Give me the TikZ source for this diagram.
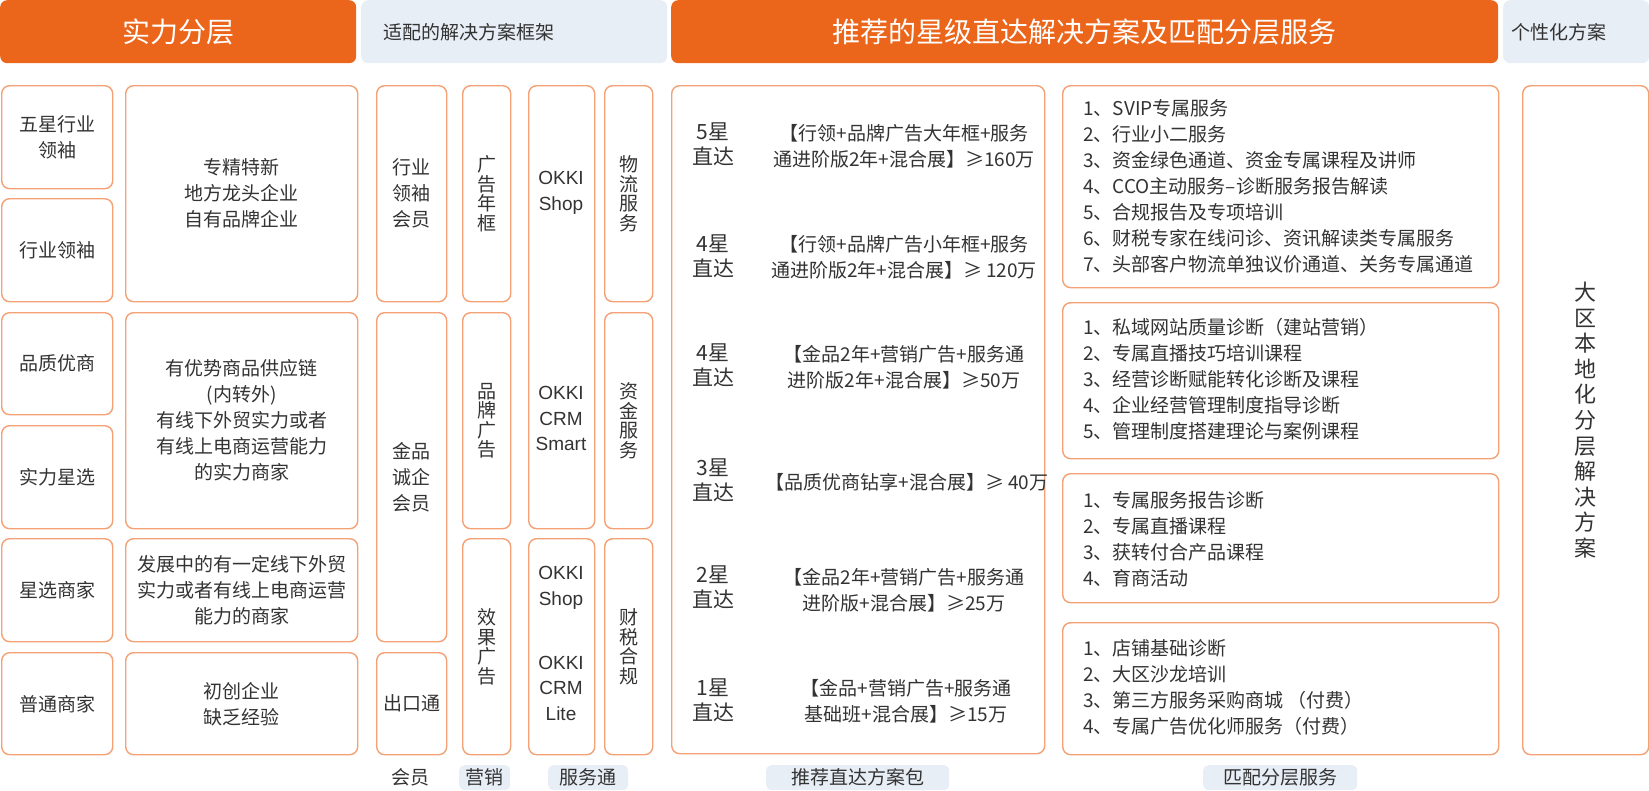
\documentclass[tikz,border=0pt]{standalone}
\usepackage{fontspec}
\setmainfont{Noto Sans CJK SC}
\newfontfamily\latfont{Liberation Sans}
\definecolor{org}{HTML}{EB651A}
\definecolor{bdr}{HTML}{F3A175}
\definecolor{lbg}{HTML}{E8EEF6}
\definecolor{txt}{HTML}{333333}
\tikzset{
 cell/.style={draw=bdr, line width=1.4pt, rounded corners=8pt, fill=white, align=center, text=txt, inner sep=0pt, font=\fontsize{19}{26}\selectfont},
 vcell/.style={cell, font=\fontsize{19}{19.5}\selectfont},
 hdr/.style={fill=org, rounded corners=7pt, inner sep=0pt, text=white, font=\fontsize{28}{34}\selectfont},
 lhdr/.style={fill=lbg, rounded corners=7pt, inner sep=0pt},
 htxt/.style={text=txt, inner sep=0pt, anchor=west, font=\fontsize{19}{26}\selectfont},
 okki/.style={text=txt, align=center, inner sep=0pt, font=\latfont\fontsize{19}{25.5}\selectfont},
 star/.style={text=txt, align=center, inner sep=0pt, font=\fontsize{21}{25}\selectfont},
 deal/.style={text=txt, align=center, inner sep=0pt, font=\fontsize{19}{26}\selectfont},
 svc/.style={text=txt, align=left, inner sep=0pt, anchor=west, font=\fontsize{19}{26}\selectfont},
 tag/.style={fill=lbg, rounded corners=5pt, inner sep=0pt, text=txt, font=\fontsize{19}{26}\selectfont},
 plain/.style={text=txt, inner sep=0pt, font=\fontsize{19}{26}\selectfont},
}
\newcommand\cellbox[7][cell]{\node[#1, minimum width=#5pt, minimum height=#6pt, anchor=north west] (#2) at (#3,#4) {#7};}
\begin{document}
\begin{tikzpicture}[x=1pt,y=-1pt]
\useasboundingbox (0,0) rectangle (1649,790);
% headers
\cellbox[hdr]{h1}{0}{0}{356}{63}{实力分层}
\cellbox[lhdr]{h2}{361}{0}{306}{63}{}
\node[htxt] (h2t) at (383,32) {适配的解决方案框架};
\cellbox[hdr]{h3}{671}{0}{827}{63}{推荐的星级直达解决方案及匹配分层服务}
\cellbox[lhdr]{h4}{1503}{0}{146}{63}{}
\node[htxt] (h4t) at (1511,32) {个性化方案};
% column 1
\cellbox{a1}{1}{85}{111}{103}{五星行业\\领袖}
\cellbox{a2}{1}{198}{111}{103}{行业领袖}
\cellbox{a3}{1}{312}{111}{102}{品质优商}
\cellbox{a4}{1}{425}{111}{103}{实力星选}
\cellbox{a5}{1}{538}{111}{103}{星选商家}
\cellbox{a6}{1}{652}{111}{102}{普通商家}
% column 2
\cellbox{b1}{125}{85}{232}{216}{专精特新\\地方龙头企业\\自有品牌企业}
\cellbox{b2}{125}{312}{232}{216}{有优势商品供应链\\(内转外)\\有线下外贸实力或者\\有线上电商运营能力\\的实力商家}
\cellbox{b3}{125}{538}{232}{103}{发展中的有一定线下外贸\\实力或者有线上电商运营\\能力的商家}
\cellbox{b4}{125}{652}{232}{102}{初创企业\\缺乏经验}
% column 3
\cellbox{c1}{376}{85}{70}{216}{行业\\领袖\\会员}
\cellbox{c2}{376}{312}{70}{329}{金品\\诚企\\会员}
\cellbox{c3}{376}{652}{70}{102}{出口通}
% column 4
\cellbox[vcell]{d1}{462}{85}{48}{216}{广\\告\\年\\框}
\cellbox[vcell]{d2}{462}{312}{48}{216}{品\\牌\\广\\告}
\cellbox[vcell]{d3}{462}{538}{48}{216}{效\\果\\广\\告}
% column 5
\cellbox{e1}{528}{85}{66}{443}{}
\node[okki] (e1a) at (561,193) {OKKI\\Shop};
\node[okki] (e1b) at (561,418.5) {OKKI\\CRM\\Smart};
\cellbox{e2}{528}{538}{66}{216}{}
\node[okki] (e2a) at (561,588) {OKKI\\Shop};
\node[okki] (e2b) at (561,688) {OKKI\\CRM\\Lite};
% column 6
\cellbox[vcell]{f1}{604}{85}{48}{216}{物\\流\\服\\务}
\cellbox[vcell]{f2}{604}{312}{48}{216}{资\\金\\服\\务}
\cellbox[vcell]{f3}{604}{538}{48}{216}{财\\税\\合\\规}
% star box
\cellbox{g}{671}{85}{373}{668}{}
\node[star] (g5) at (713,144.5) {5星\\直达};
\node[deal] (g5t) at (904,146) {【行领+品牌广告大年框+服务\\通进阶版2年+混合展】≥160万};
\node[star] (g4) at (713,256) {4星\\直达};
\node[deal] (g4t) at (904,257.5) {【行领+品牌广告小年框+服务\\通进阶版2年+混合展】≥ 120万};
\node[star] (g4b) at (713,365) {4星\\直达};
\node[deal] (g4bt) at (904,367) {【金品2年+营销广告+服务通\\进阶版2年+混合展】≥50万};
\node[star] (g3) at (713,480) {3星\\直达};
\node[deal] (g3t) at (907,482) {【品质优商钻享+混合展】≥ 40万};
\node[star] (g2) at (713,587) {2星\\直达};
\node[deal] (g2t) at (904,590) {【金品2年+营销广告+服务通\\进阶版+混合展】≥25万};
\node[star] (g1) at (713,700) {1星\\直达};
\node[deal] (g1t) at (906,701) {【金品+营销广告+服务通\\基础班+混合展】≥15万};
% services
\cellbox{s1}{1062}{85}{436}{202}{}
\node[svc] (s1t) at (1083,186) {1、SVIP专属服务\\2、行业小二服务\\3、资金绿色通道、资金专属课程及讲师\\4、CCO主动服务–诊断服务报告解读\\5、合规报告及专项培训\\6、财税专家在线问诊、资讯解读类专属服务\\7、头部客户物流单独议价通道、关务专属通道};
\cellbox{s2}{1062}{302}{436}{156}{}
\node[svc] (s2t) at (1083,379) {1、私域网站质量诊断（建站营销）\\2、专属直播技巧培训课程\\3、经营诊断赋能转化诊断及课程\\4、企业经营管理制度指导诊断\\5、管理制度搭建理论与案例课程};
\cellbox{s3}{1062}{473}{436}{129}{}
\node[svc] (s3t) at (1083,539) {1、专属服务报告诊断\\2、专属直播课程\\3、获转付合产品课程\\4、育商活动};
\cellbox{s4}{1062}{622}{436}{132}{}
\node[svc] (s4t) at (1083,687) {1、店铺基础诊断\\2、大区沙龙培训\\3、第三方服务采购商城 （付费）\\4、专属广告优化师服务（付费）};
% right column
\cellbox[cell, font=\fontsize{22}{25.6}\selectfont]{r}{1522}{85}{126}{669}{大\\区\\本\\地\\化\\分\\层\\解\\决\\方\\案}
% bottom tags
\node[plain] (t1) at (410,777) {会员};
\cellbox[tag]{t2}{459}{765}{51}{25}{营销}
\cellbox[tag]{t3}{548}{765}{80}{25}{服务通}
\cellbox[tag]{t4}{766}{765}{183}{25}{推荐直达方案包}
\cellbox[tag]{t5}{1203}{765}{154}{25}{匹配分层服务}
\end{tikzpicture}
\end{document}
